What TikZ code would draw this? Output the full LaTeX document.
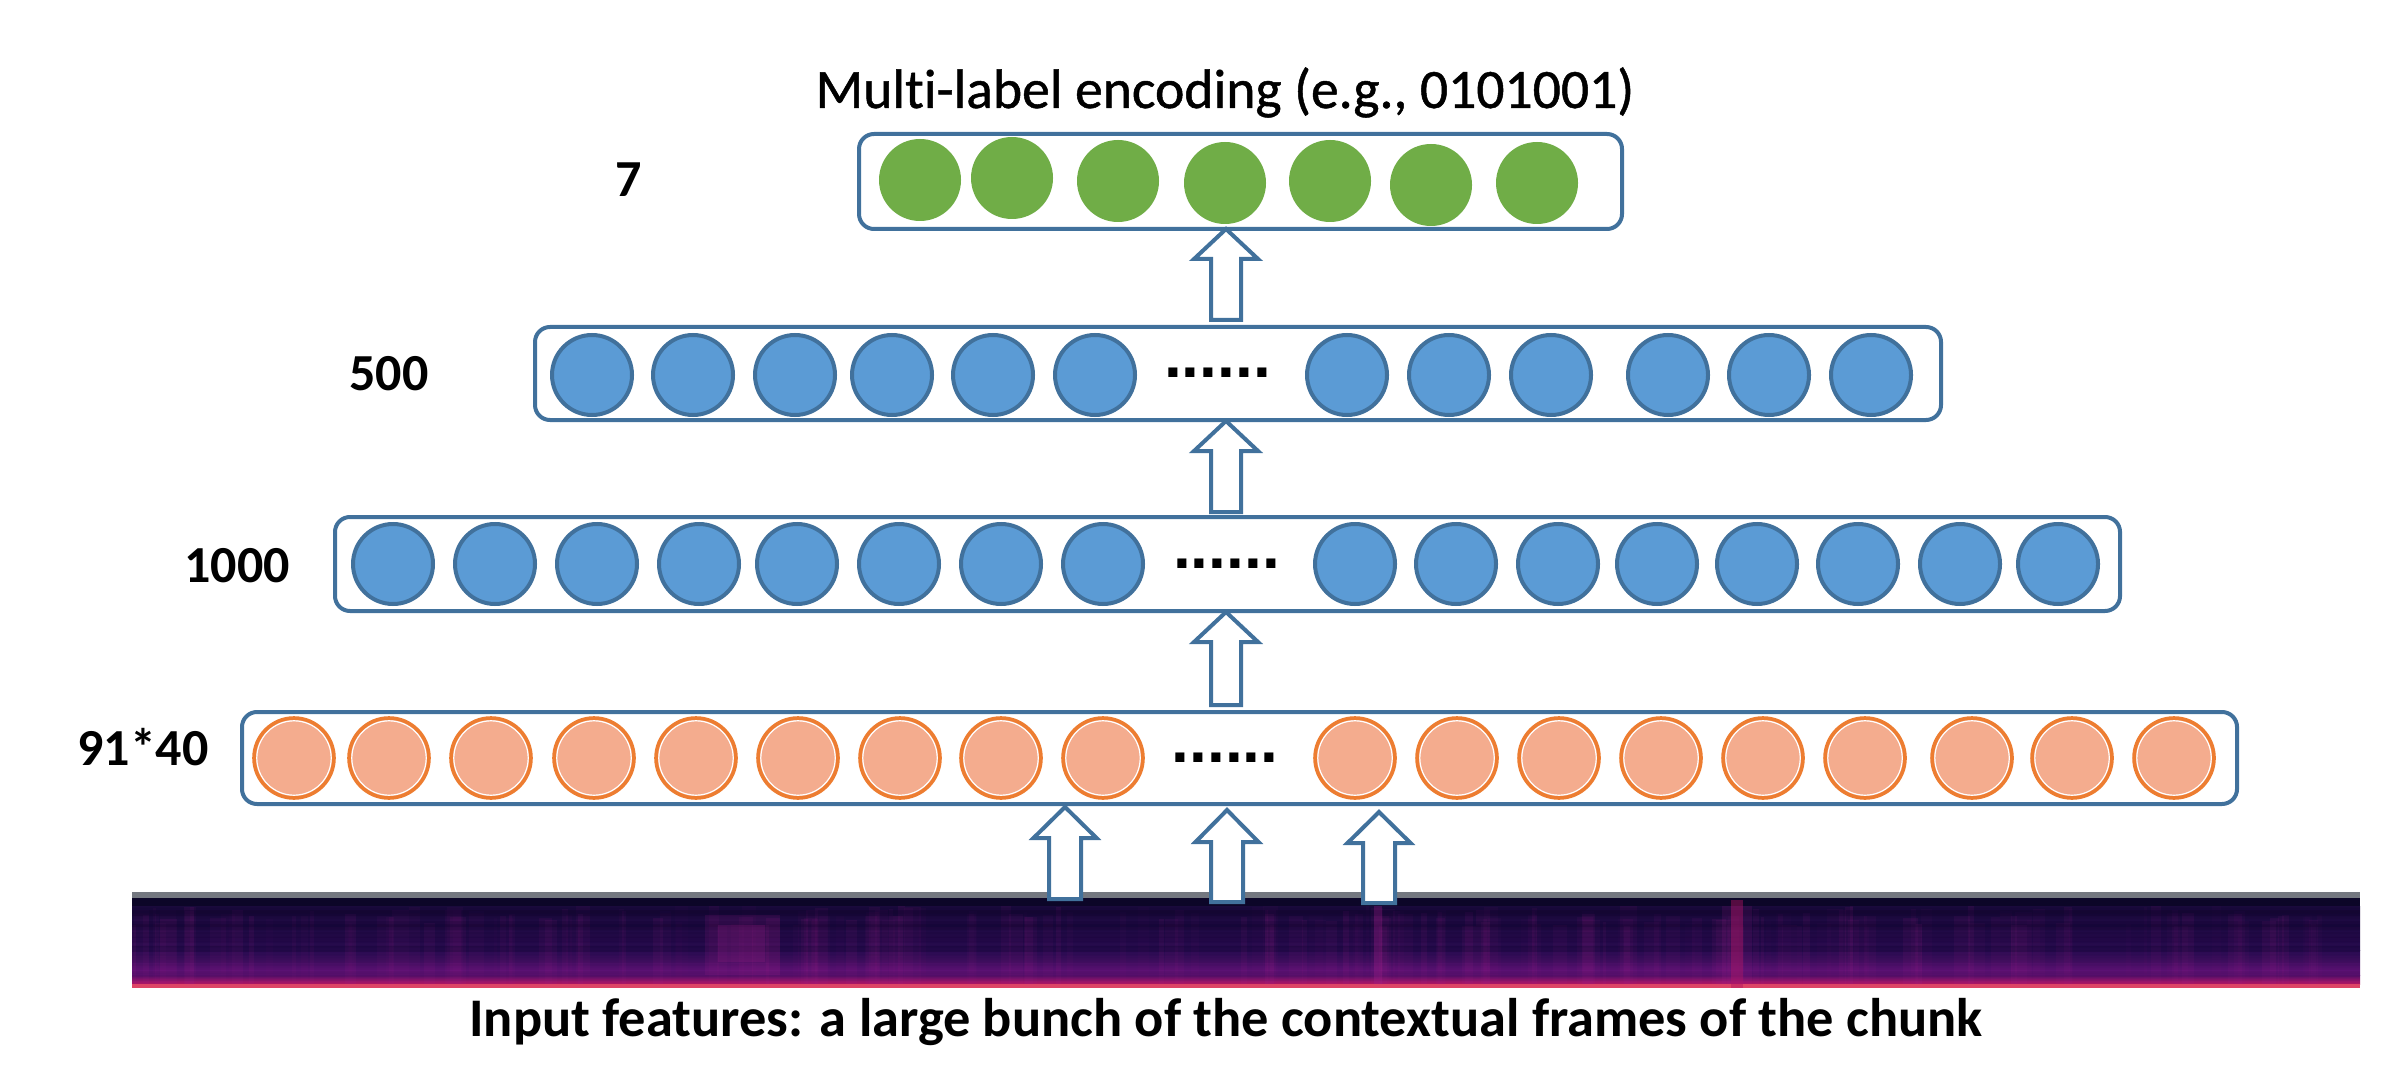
\documentclass[tikz,border=0pt]{standalone}
\usepackage{fontspec}
\setmainfont{Carlito}[Ligatures=NoCommon]
\newfontfamily\titlefont{Carlito}[Ligatures=NoCommon, FakeBold=0.9]
\newfontfamily\dotfont{Liberation Sans}
\definecolor{boxblue}{HTML}{41719C}
\definecolor{circblue}{HTML}{41719C}
\definecolor{fillblue}{HTML}{5B9BD5}
\definecolor{fillgreen}{HTML}{70AD47}
\definecolor{strokeorange}{HTML}{ED7D31}
\definecolor{fillorange}{HTML}{F4AC8E}
\definecolor{specgray}{HTML}{747880}
\definecolor{specA}{HTML}{0C0628}
\definecolor{specB}{HTML}{1A0A3C}
\definecolor{specC}{HTML}{2C0D55}
\definecolor{specD}{HTML}{66127A}
\definecolor{specE}{HTML}{B01560}
\definecolor{specF}{HTML}{DD4466}
\definecolor{streak}{HTML}{A0208A}
\newcommand\blockup[5]{% tip, total length, head length, head half width, shaft half width
  \draw[blk] (#1) -- ++(#4,#3) -- ++(#5-#4,0) -- ++(0,#2-#3) -- ++(-2*#5,0)
    -- ++(0,#3-#2) -- ++(#5-#4,0) -- cycle;}
\begin{document}
\begin{tikzpicture}[x=0.25pt,y=-0.25pt,
  layerbox/.style={draw=boxblue, line width=1pt, rounded corners=3.75pt, fill=white, inner sep=0pt},
  bc/.style={circle, draw=circblue, fill=fillblue, line width=1pt, minimum size=20pt, inner sep=0pt},
  gc/.style={circle, fill=fillgreen, minimum size=20.5pt, inner sep=0pt},
  oc/.style={circle, draw=strokeorange, fill=fillorange, line width=0.9pt, minimum size=20pt, inner sep=0pt,
    path picture={\draw[white, line width=0.3pt] (path picture bounding box.center) circle (9.3pt);}},
  blk/.style={draw=boxblue, line width=1pt, fill=white, line join=miter},
  lbl/.style={font=\bfseries\fontsize{13pt}{15pt}\selectfont, anchor=base, inner sep=0pt},
  dotsty/.style={font=\dotfont\bfseries\fontsize{16pt}{18pt}\selectfont, anchor=base, inner sep=0pt},
]
\useasboundingbox (0,0) rectangle (2394,1079);

% ---------- spectrogram ----------
\fill[specgray] (132,892) rectangle (2360,898);
\fill[specA] (132,898) rectangle (2360,906);
\shade[top color=specB, bottom color=specC] (132,906) rectangle (2360,950);
\shade[top color=specC, bottom color=specD] (132,950) rectangle (2360,975);
\shade[top color=specD, bottom color=specE] (132,975) rectangle (2360,984);
\fill[specF] (132,984) rectangle (2360,988);
\pgfmathsetseed{11}
\foreach \i in {1,...,220}{
  \pgfmathsetmacro\xx{132+rnd*2205}
  \pgfmathsetmacro\ww{3+rnd*14}
  \pgfmathsetmacro\oo{0.03+rnd*0.10}
  \pgfmathsetmacro\yy{906+rnd*20}
  \fill[streak, opacity=\oo] (\xx,\yy) rectangle (\xx+\ww,984);
}
\foreach \i in {1,...,40}{
  \pgfmathsetmacro\yy{906+rnd*70}
  \pgfmathsetmacro\oo{0.03+rnd*0.07}
  \fill[specA, opacity=\oo] (132,\yy) rectangle (2360,\yy+6);
}
\fill[streak, opacity=0.15] (705,915) rectangle (780,975);
\fill[streak, opacity=0.2] (718,925) rectangle (765,962);
\fill[streak, opacity=0.3] (1374,906) rectangle (1382,984);
\fill[specE, opacity=0.45] (1731,900) rectangle (1743,988);
\fill[streak, opacity=0.15] (1722,906) rectangle (1752,984);

% ---------- title ----------
\node[font=\titlefont\fontsize{13.9pt}{16pt}\selectfont, anchor=base, inner sep=0pt] (title) at (1225,108)
  {Multi-label encoding (e.g., 0101001)};

% ---------- layer boxes ----------
\node[layerbox, minimum width=190.75pt, minimum height=23.75pt] (L7) at (1240.5,181.5) {};
\node[layerbox, minimum width=351.5pt, minimum height=23.25pt] (L500) at (1238,373.5) {};
\node[layerbox, minimum width=446.25pt, minimum height=23.5pt] (L1000) at (1227.5,564) {};
\node[layerbox, minimum width=498.75pt, minimum height=23pt] (L91) at (1239.5,758) {};

% ---------- output layer (7) ----------
\foreach \x/\y [count=\k] in {920/180,1012/178,1118/181,1225/183,1330/181,1431/185,1537/183}
  \node[gc] (g\k) at (\x,\y) {};

% ---------- 500 layer ----------
\foreach \x [count=\k] in {592,693,795,892,993,1095,1347,1449,1551,1668,1769,1871}
  \node[bc] (h\k) at (\x,375) {};
\node[dotsty] (d500) at (1217.5,378) {......};

% ---------- 1000 layer ----------
\foreach \x [count=\k] in {393,495,597,699,797,899,1001,1103,1355,1456,1558,1657,1757,1858,1960,2058}
  \node[bc] (m\k) at (\x,564) {};
\node[dotsty] (d1000) at (1226.5,568) {......};

% ---------- input layer (91*40) ----------
\foreach \x [count=\k] in {294,389,491,594,696,798,900,1001,1103,1355,1457,1559,1661,1763,1865,1972,2072,2174}
  \node[oc] (o\k) at (\x,758) {};
\node[dotsty] (d91) at (1225,762) {......};

% ---------- layer sizes ----------
\node[lbl] (n7) at (629,197) {7};
\node[lbl] (n500) at (389,391) {500};
\node[lbl] (n1000) at (237,582) {1000};
\node[lbl] (n91) at (143,765) {91*40};

% ---------- block arrows ----------
\coordinate (t1) at (1226,229);
\coordinate (t2) at (1226,421);
\coordinate (t3) at (1226,612);
\coordinate (i1) at (1065,807);
\coordinate (i2) at (1227,810);
\coordinate (i3) at (1379,812);
\blockup{t1}{91}{30}{32}{15}
\blockup{t2}{91}{30}{32}{15}
\blockup{t3}{93}{30}{32}{15}
\blockup{i1}{92}{31}{31.5}{16}
\blockup{i2}{92}{32}{31.5}{16}
\blockup{i3}{91}{31}{31.5}{16}

% ---------- caption ----------
\node[font=\bfseries\fontsize{13.6pt}{15pt}\selectfont, anchor=base, inner sep=0pt] (cap) at (1226,1036)
  {Input features: a large bunch of the contextual frames of the chunk};
\end{tikzpicture}
\end{document}
